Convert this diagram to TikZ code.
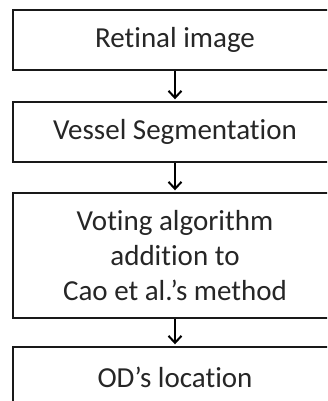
\documentclass[tikz,border=0pt]{standalone}
\usepackage{fontspec}
\setmainfont[Ligatures={NoCommon}]{Carlito}
\usetikzlibrary{arrows.meta}
\begin{document}
\begin{tikzpicture}[x=1pt,y=1pt,
  box/.style={draw=black!90, line width=2.4pt, minimum width=324pt, inner sep=0pt, align=center, font=\fontsize{29}{35}\selectfont, text=black!85, fill=white},
  arr/.style={line width=2pt, shorten >=1.5pt, -{Straight Barb[length=7pt,width=13pt,line width=2pt]}}]
\useasboundingbox (0,0) rectangle (327,401);
\clip (0,0) rectangle (327,401);
\node[box, minimum height=60pt] (b1) at (175,361) {Retinal image};
\node[box, minimum height=60pt] (b2) at (175,269) {Vessel Segmentation};
\node[box, minimum height=125pt] (b3) at (175,145.5) {Voting algorithm\\addition to\\Cao et al.’s method};
\node[box, minimum height=60pt] (b4) at (175,24) {OD’s location};
\draw[arr] (b1) -- (b2);
\draw[arr] (b2) -- (b3);
\draw[arr] (b3) -- (b4);
\end{tikzpicture}
\end{document}
